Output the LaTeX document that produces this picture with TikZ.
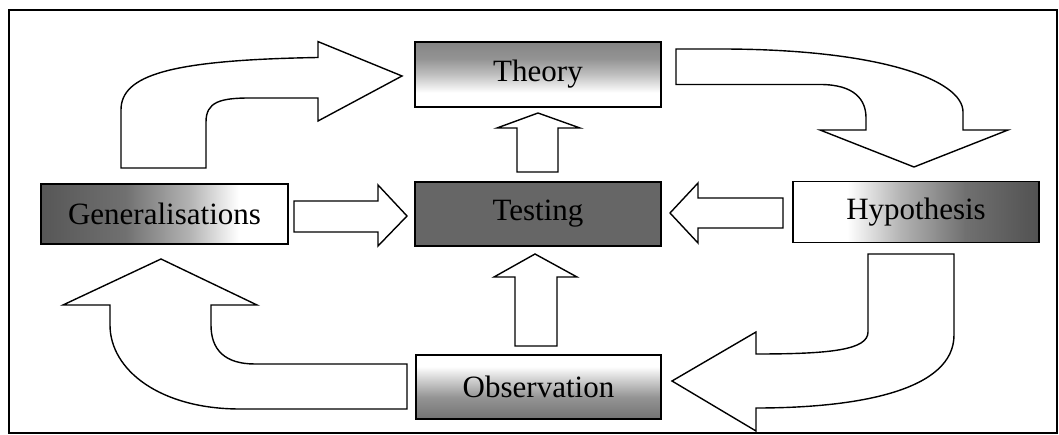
\documentclass[tikz,border=0pt]{standalone}
\usepackage{fontspec}
\setmainfont{Liberation Serif}

% Box fills: horizontal shadings vary left to right, vertical ones bottom to top
\pgfdeclarehorizontalshading{genshade}{100bp}{color(0bp)=(black!66); color(25bp)=(black!66); color(42bp)=(black!56); color(55bp)=(black!30); color(65bp)=(white); color(100bp)=(white)}
\pgfdeclarehorizontalshading{hypshade}{100bp}{color(0bp)=(white); color(36bp)=(white); color(47bp)=(black!30); color(60bp)=(black!56); color(75bp)=(black!68); color(100bp)=(black!68)}
\pgfdeclareverticalshading{theoryshade}{100bp}{color(0bp)=(white); color(36bp)=(white); color(50bp)=(black!25); color(62bp)=(black!42); color(75bp)=(black!48); color(100bp)=(black!48)}
\pgfdeclareverticalshading{obsshade}{100bp}{color(0bp)=(black!55); color(25bp)=(black!55); color(42bp)=(black!42); color(56bp)=(black!18); color(66bp)=(white); color(100bp)=(white)}

\tikzset{
  box/.style={draw=black, line width=1.2pt, inner sep=0pt, minimum width=246pt,
    font=\fontsize{31}{36}\selectfont, text=black},
  blockarrow/.style={draw=black, fill=white, line width=1.4pt, line join=miter},
}

\begin{document}
\begin{tikzpicture}[x=1pt, y=-1pt]
\useasboundingbox (0,0) rectangle (1059,435);
\draw[line width=1.5pt] (9,10) rectangle (1057,433);

% stages of the cycle
\node[box, shading=theoryshade, minimum height=65pt] (theory) at (538,74.5) {Theory};
\node[box, fill=black!60, minimum height=64pt] (testing) at (538,214) {Testing};
\node[box, shading=genshade, minimum width=247pt, minimum height=60pt] (gen) at (164.5,214) {Generalisations};
\node[box, shading=hypshade, minimum height=61pt] (hyp) at (916,212) {Hypothesis};
\node[box, shading=obsshade, minimum width=245pt, minimum height=64pt] (obs) at (538.5,387) {Observation};

% straight block arrows into Testing and up to Theory
\draw[blockarrow] (294,201) -- (378,201) -- (378,185) -- (407,216) -- (378,246) -- (378,232) -- (294,232) -- cycle;
\draw[blockarrow] (783,198) -- (698,198) -- (698,183) -- (670,213) -- (698,243) -- (698,228) -- (783,228) -- cycle;
\draw[blockarrow] (517,172) -- (517,128) -- (497,128) -- (538,113) -- (580,128) -- (558,128) -- (558,172) -- cycle;
\draw[blockarrow] (515,346) -- (515,277) -- (494,277) -- (535,254) -- (577,277) -- (557,277) -- (557,346) -- cycle;

% curved block arrows round the outside
% Generalisations -> Theory
\draw[blockarrow] (121,168) -- (121,110) .. controls (121,75) and (170,60) .. (318,57.5)
  -- (318,41.6) -- (402,76) -- (318,121) -- (318,98) -- (250,98)
  .. controls (220,98) and (206,102) .. (206,122) -- (206,168) -- cycle;
% Theory -> Hypothesis
\draw[blockarrow] (676,49) -- (720,49) .. controls (880,49) and (963,80) .. (963,112)
  -- (963,130) -- (1008,130) -- (914,167) -- (820,130) -- (866,130) -- (866,118)
  .. controls (866,100) and (855,84.5) .. (820,84.5) -- (676,84.5) -- cycle;
% Hypothesis -> Observation
\draw[blockarrow] (868,254) -- (954,254) -- (954,335) .. controls (954,390) and (860,408) .. (756,408)
  -- (756,431) -- (672,381) -- (756,332) -- (756,354)
  .. controls (830,354) and (868,350) .. (868,332) -- cycle;
% Observation -> Generalisations
\draw[blockarrow] (407,364) -- (407,409) -- (240,409) .. controls (160,409) and (110,370) .. (110,325)
  -- (110,305) -- (63,305) -- (161,259) -- (257,305) -- (211,305) -- (211,325)
  .. controls (211,350) and (225,364) .. (255,364) -- cycle;
\end{tikzpicture}
\end{document}
